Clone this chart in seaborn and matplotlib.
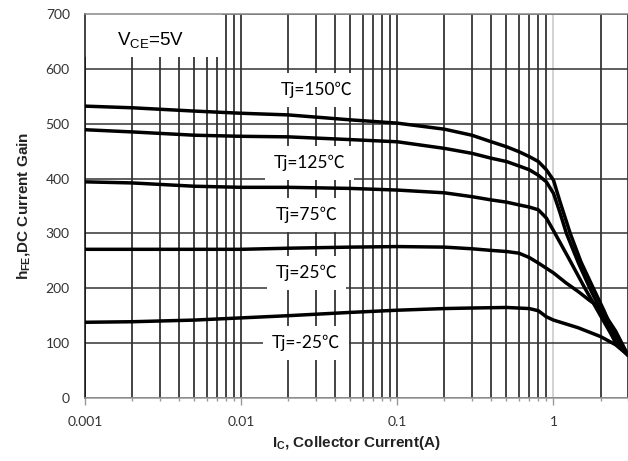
import numpy as np
import pandas as pd
import matplotlib
matplotlib.use("Agg")
import matplotlib.pyplot as plt
import seaborn as sns
from matplotlib.ticker import LogLocator, FixedLocator, FuncFormatter, NullFormatter
from matplotlib.patches import Rectangle

# DC current gain vs collector current, VCE = 5 V
temps = [150, 125, 75, 25, -25]

ic_150 = [0.001, 0.002, 0.005, 0.01, 0.02, 0.05, 0.1, 0.2, 0.3, 0.4, 0.5, 0.6, 0.7,
          0.8, 0.9, 1.0, 1.1, 1.28, 1.5, 1.8, 2.1, 2.45, 3.0]
hfe_150 = [532, 529, 523, 519, 516, 507, 501, 490, 479, 467, 458, 449, 440,
           431, 416, 397, 358, 300, 248, 200, 160, 116, 78]

ic_125 = [0.001, 0.002, 0.005, 0.01, 0.02, 0.05, 0.1, 0.2, 0.3, 0.4, 0.5, 0.6, 0.7,
          0.8, 0.9, 1.0, 1.1, 1.21, 1.45, 1.71, 2.1, 2.5, 3.0]
hfe_125 = [489, 485, 479, 477, 476, 471, 467, 455, 446, 437, 431, 423, 416,
           406, 394, 373, 338, 300, 245, 200, 148, 100, 78]

ic_75 = [0.001, 0.002, 0.005, 0.01, 0.02, 0.05, 0.1, 0.2, 0.3, 0.4, 0.5, 0.6, 0.7,
         0.8, 0.9, 1.0, 1.25, 1.59, 2.0, 2.5, 3.0]
hfe_75 = [394, 392, 386, 384, 384, 382, 379, 374, 367, 361, 357, 352, 348,
          343, 328, 305, 255, 200, 150, 102, 78]

ic_25 = [0.001, 0.002, 0.005, 0.01, 0.02, 0.05, 0.1, 0.2, 0.3, 0.4, 0.5, 0.6, 0.7,
         0.8, 1.0, 1.2, 1.44, 1.7, 2.0, 2.5, 3.0]
hfe_25 = [271, 271, 271, 271, 273, 275, 276, 275, 272, 269, 267, 264, 256,
          246, 228, 210, 194, 178, 164, 122, 78]

ic_m25 = [0.001, 0.002, 0.005, 0.01, 0.02, 0.05, 0.1, 0.2, 0.3, 0.5, 0.7, 0.8, 0.9,
          1.0, 1.44, 2.0, 2.5, 3.0]
hfe_m25 = [138, 139, 142, 146, 150, 156, 160, 163, 164, 165, 163, 159, 148,
           142, 128, 112, 97, 78]

x_ticks = [0.001, 0.01, 0.1, 1]
y_ticks = [0, 100, 200, 300, 400, 500, 600, 700]

curves = [(ic_150, hfe_150), (ic_125, hfe_125), (ic_75, hfe_75),
          (ic_25, hfe_25), (ic_m25, hfe_m25)]
names = [f"Tj={t}℃" for t in temps]
df = pd.concat(
    [pd.DataFrame({"Ic": ic, "hFE": h, "Tj": n}) for (ic, h), n in zip(curves, names)],
    ignore_index=True)

sns.set_theme(style="white")
plt.rcParams["font.family"] = ["Lato", "Noto Sans CJK SC", "DejaVu Sans"]

fig = plt.figure(figsize=(6.28, 4.61), dpi=100)
ax = fig.add_axes([0.1354, 0.1367, 0.8646, 0.8330])

sns.lineplot(data=df, x="Ic", y="hFE", hue="Tj", hue_order=names,
             palette=["black"] * len(names), estimator=None, sort=False,
             legend=False, linewidth=2.5, ax=ax, zorder=4)
for line in ax.get_lines():
    line.set_solid_joinstyle("round")
    line.set_solid_capstyle("round")

ax.set_xscale("log")
ax.set_xlim(0.001, 3)
ax.set_ylim(0, 700)

ax.xaxis.set_major_locator(FixedLocator(x_ticks))
ax.xaxis.set_major_formatter(FuncFormatter(lambda v, p: f"{v:g}"))
ax.xaxis.set_minor_locator(LogLocator(base=10, subs=np.arange(2, 10), numticks=20))
ax.xaxis.set_minor_formatter(NullFormatter())
ax.yaxis.set_major_locator(FixedLocator(y_ticks))

# grid
ax.set_axisbelow(True)
ax.grid(True, which="major", axis="y", color="#333333", linewidth=1.1)
ax.grid(True, which="major", axis="x", color="#111111", linewidth=1.1)
ax.grid(True, which="minor", axis="x", color="#111111", linewidth=1.1)
for tick in ax.xaxis.get_major_ticks():
    if abs(tick.get_loc() - 1) < 1e-9:
        tick.gridline.set_color("#c8c8c8")

ax.tick_params(axis="x", which="major", direction="out", length=5, width=1,
               color="#999999", pad=8, labelsize=10, labelcolor="#333333")
ax.tick_params(axis="x", which="minor", direction="out", length=2.5, width=1,
               color="#999999")
ax.tick_params(axis="y", which="both", length=0, pad=11, labelsize=10,
               labelcolor="#333333")
ax.tick_params(axis="x", which="both", bottom=True)

ax.spines["right"].set_visible(False)
ax.spines["top"].set_color("#888888")
ax.spines["bottom"].set_color("#999999")
ax.spines["left"].set_color("#111111")
for s in ax.spines.values():
    s.set_linewidth(1.1)

label_font = ["Liberation Sans Narrow", "Liberation Sans", "DejaVu Sans"]
ax.set_xlabel(r"$\mathregular{I_C}$, Collector Current(A)", fontsize=11,
              fontweight="bold", family=label_font, color="#222222", labelpad=4)
ax.set_ylabel(r"$\mathregular{h_{FE}}$,DC Current Gain", fontsize=11,
              fontweight="bold", family=label_font, color="#222222", labelpad=10)

# condition box
ax.add_patch(Rectangle((0, 0.888), 0.252, 0.112, transform=ax.transAxes,
                       facecolor="white", edgecolor="none", zorder=1.5))
ax.text(0.12, 0.932, r"$\mathregular{V_{CE}}$=5V", transform=ax.transAxes,
        ha="center", va="center", fontsize=13.5,
        family=["Liberation Sans", "DejaVu Sans"], color="black", zorder=3)

# curve labels
label_pos = [(0.0303, 561), (0.0274, 428), (0.0262, 334), (0.0262, 228), (0.0259, 100)]
for n, (lx, ly) in zip(names, label_pos):
    ax.text(lx, ly, n, ha="center", va="center", fontsize=12.5, color="black",
            family=["Lato", "Noto Sans CJK SC", "DejaVu Sans"], zorder=3,
            bbox=dict(boxstyle="square,pad=0.5", facecolor="white", edgecolor="none"))

fig.savefig("out.png", dpi=100)
